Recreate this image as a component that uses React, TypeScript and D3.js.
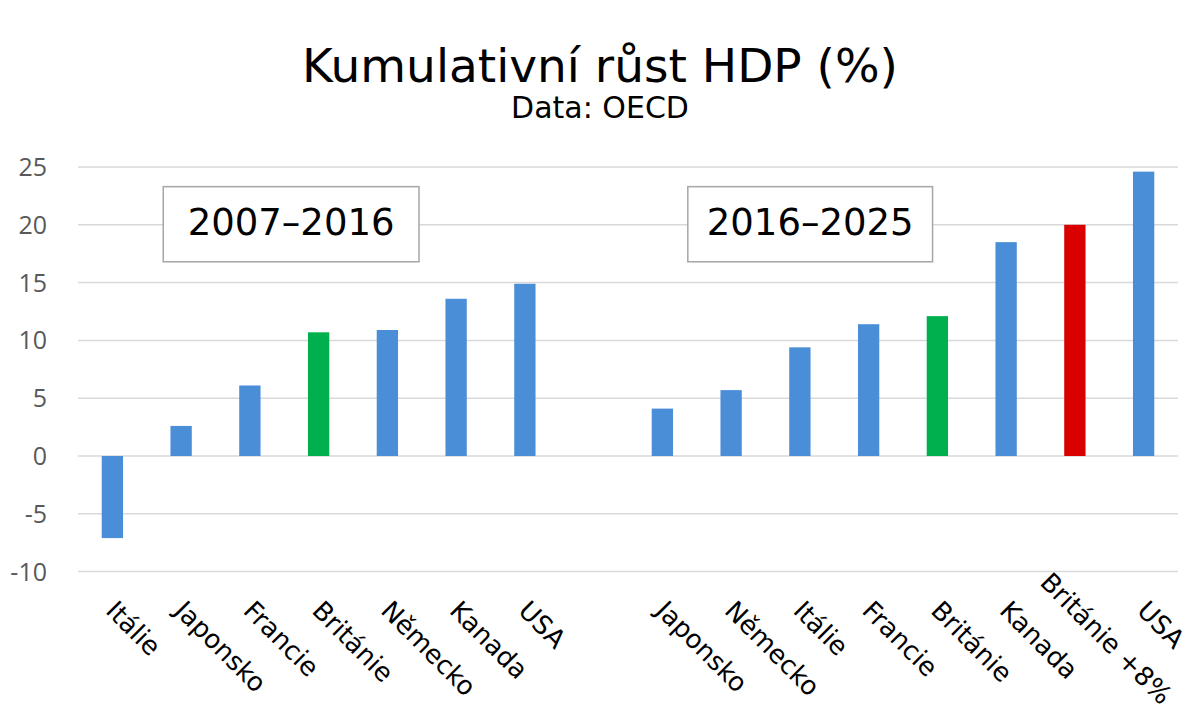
import { useEffect, useRef } from "react";
import * as d3 from "d3";

// 2007–2016 period
const firstCats = ["Itálie", "Japonsko", "Francie", "Británie", "Německo", "Kanada", "USA"];
const firstValues = [-7.1, 2.6, 6.1, 10.7, 10.9, 13.6, 14.9];
const firstKinds = ["base", "base", "base", "uk", "base", "base", "base"];

// 2016–2025 period
const secondCats = ["Japonsko", "Německo", "Itálie", "Francie", "Británie", "Kanada", "Británie +8%", "USA"];
const secondValues = [4.1, 5.7, 9.4, 11.4, 12.1, 18.5, 20.0, 24.6];
const secondKinds = ["base", "base", "base", "base", "uk", "base", "ukPlus", "base"];

const yTicks = [-10, -5, 0, 5, 10, 15, 20, 25];

const periodLabels = ["2007–2016", "2016–2025"];
// box extents in slot units (x) and value units (y)
const periodBoxX0 = [1.24, 8.87];
const periodBoxX1 = [4.96, 12.43];
const periodBoxTop = [23.3, 23.3];
const periodBoxBottom = [16.8, 16.8];

const colors: Record<string, string> = {
  base: "#4a8ed8",
  uk: "#00b04f",
  ukPlus: "#d90000",
};

const W = 1200;
const H = 712;

export default function App() {
  const svgRef = useRef<SVGSVGElement>(null);

  useEffect(() => {
    const svg = svgRef.current;
    if (!svg) return;
    d3.select(svg).selectAll("*").remove();

    const rows = [
      ...firstCats.map((c, i) => ({ key: `a${i}`, cat: c, value: firstValues[i], kind: firstKinds[i] })),
      { key: "gap", cat: "", value: NaN, kind: "" },
      ...secondCats.map((c, i) => ({ key: `b${i}`, cat: c, value: secondValues[i], kind: secondKinds[i] })),
    ];

    const left = 78;
    const right = 1178;
    const x = d3.scaleBand().domain(rows.map((r) => r.key)).range([left, right]);
    const slot = d3.scaleLinear().domain([0, rows.length]).range([left, right]);
    const y = d3.scaleLinear().domain([-10, 25]).range([571.6, 167]);
    const barW = x.bandwidth() * 0.31;

    const g = d3.select(svg);

    // Title
    g.append("text")
      .attr("x", W / 2)
      .attr("y", 82)
      .attr("text-anchor", "middle")
      .attr("font-family", "DejaVu Sans")
      .attr("font-size", 47)
      .attr("fill", "#000")
      .text("Kumulativní růst HDP (%)");

    g.append("text")
      .attr("x", W / 2)
      .attr("y", 118)
      .attr("text-anchor", "middle")
      .attr("font-family", "DejaVu Sans")
      .attr("font-size", 30)
      .attr("fill", "#000")
      .text("Data: OECD");

    // Grid
    g.append("g")
      .selectAll("line")
      .data(yTicks)
      .join("line")
      .attr("x1", left)
      .attr("x2", right)
      .attr("y1", (d) => y(d))
      .attr("y2", (d) => y(d))
      .attr("stroke", "#d9d9d9")
      .attr("stroke-width", 1.5);

    // Y tick labels
    g.append("g")
      .selectAll("text")
      .data(yTicks)
      .join("text")
      .attr("x", 47)
      .attr("y", (d) => y(d))
      .attr("dy", "0.36em")
      .attr("text-anchor", "end")
      .attr("font-family", "Open Sans")
      .attr("font-size", 25)
      .attr("fill", "#595959")
      .text((d) => String(d));

    // Bars
    const bars = rows.filter((r) => !isNaN(r.value));
    g.append("g")
      .selectAll("rect")
      .data(bars)
      .join("rect")
      .attr("x", (d) => (x(d.key) ?? 0) + x.bandwidth() / 2 - barW / 2)
      .attr("y", (d) => y(Math.max(0, d.value)))
      .attr("width", barW)
      .attr("height", (d) => Math.abs(y(d.value) - y(0)))
      .attr("fill", (d) => colors[d.kind]);

    // Category labels, rotated 45°
    const labels = g
      .append("g")
      .selectAll("text")
      .data(bars)
      .join("text")
      .attr("font-family", "DejaVu Sans")
      .attr("font-size", 26)
      .attr("fill", "#000")
      .text((d) => d.cat);

    labels.each(function (d) {
      const el = this as SVGTextElement;
      const len = el.getComputedTextLength();
      let ax = (x(d.key) ?? 0) + x.bandwidth() / 2 - 8;
      let ay = 612;
      // pull long labels back up so they stay inside the picture
      const over = ay + len * Math.SQRT1_2 - 706;
      if (over > 0) {
        ax -= over;
        ay -= over;
      }
      d3.select(el).attr("transform", `translate(${ax},${ay}) rotate(45)`);
    });

    // Period boxes
    periodLabels.forEach((label, i) => {
      const x0 = slot(periodBoxX0[i]);
      const x1 = slot(periodBoxX1[i]);
      const y0 = y(periodBoxTop[i]);
      const y1 = y(periodBoxBottom[i]);
      g.append("rect")
        .attr("x", x0)
        .attr("y", y0)
        .attr("width", x1 - x0)
        .attr("height", y1 - y0)
        .attr("fill", "#fff")
        .attr("stroke", "#a6a6a6")
        .attr("stroke-width", 1.5);
      g.append("text")
        .attr("x", (x0 + x1) / 2)
        .attr("y", (y0 + y1) / 2 + 11)
        .attr("text-anchor", "middle")
        .attr("font-family", "DejaVu Sans")
        .attr("font-size", 37)
        .attr("fill", "#000")
        .text(label);
    });
  }, []);

  return (
    <div style={{ position: "absolute", left: 0, top: 0, width: W, height: H, background: "#fff" }}>
      <svg ref={svgRef} width={W} height={H} style={{ display: "block" }} />
    </div>
  );
}
